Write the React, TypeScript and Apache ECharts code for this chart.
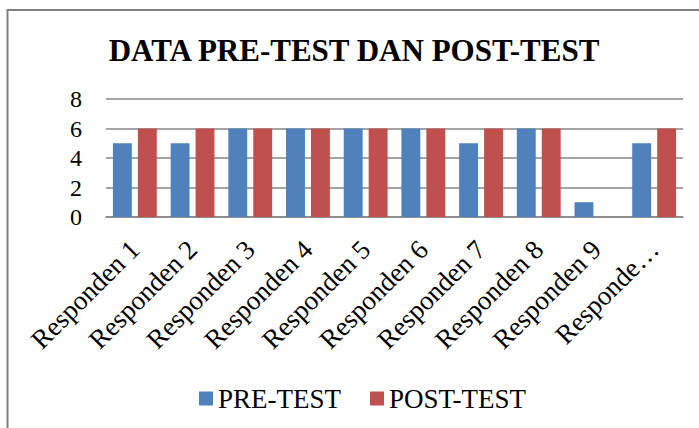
import React, { useEffect, useRef } from "react";
import * as echarts from "echarts";

const categories = [
  "Responden 1",
  "Responden 2",
  "Responden 3",
  "Responden 4",
  "Responden 5",
  "Responden 6",
  "Responden 7",
  "Responden 8",
  "Responden 9",
  "Responden 10",
];
const preTest = [5, 5, 6, 6, 6, 6, 5, 6, 1, 5];
const postTest = [6, 6, 6, 6, 6, 6, 6, 6, 0, 6];
const seriesNames = ["PRE-TEST", "POST-TEST"];
const titleText = "DATA PRE-TEST DAN POST-TEST";

const FONT = "'Liberation Serif', 'Times New Roman', serif";

export default function App() {
  const ref = useRef<HTMLDivElement>(null);
  useEffect(() => {
    if (!ref.current) return;
    const chart = echarts.init(ref.current, undefined, { renderer: "svg" });
    chart.setOption({
      animation: false,
      backgroundColor: "#ffffff",
      title: {
        text: titleText,
        left: 349,
        textAlign: "center",
        top: 30,
        textStyle: { fontFamily: FONT, fontSize: 31, fontWeight: "bold", color: "#000" },
      },
      legend: {
        data: seriesNames,
        left: 194,
        top: 380,
        itemWidth: 14,
        itemHeight: 14,
        itemGap: 29,
        icon: "rect",
        textStyle: { fontFamily: FONT, fontSize: 27, color: "#000" },
      },
      grid: { left: 106, right: 16, top: 99, bottom: 211, containLabel: false },
      xAxis: {
        type: "category",
        data: categories,
        axisLine: { show: true, lineStyle: { color: "#868686", width: 1.5 } },
        axisTick: { show: false },
        axisLabel: {
          interval: 0,
          rotate: 45,
          margin: 28,
          fontFamily: FONT,
          fontSize: 27,
          color: "#000",
          formatter: (v: string) => (v.length > 11 ? v.slice(0, 8) + "…" : v),
        },
      },
      yAxis: {
        type: "value",
        min: 0,
        max: 8,
        interval: 2,
        axisLine: { show: false },
        axisTick: { show: false },
        splitLine: { lineStyle: { color: "#868686", width: 1.5 } },
        axisLabel: { fontFamily: FONT, fontSize: 24, color: "#000", margin: 24 },
      },
      series: [
        {
          name: seriesNames[0],
          type: "bar",
          data: preTest,
          barGap: "32%",
          barCategoryGap: "24%",
          itemStyle: { color: "#4F81BD" },
        },
        {
          name: seriesNames[1],
          type: "bar",
          data: postTest,
          itemStyle: { color: "#C0504D" },
        },
      ],
      graphic: [
        {
          type: "polyline",
          shape: { points: [[7.5, 440], [7.5, 10], [705, 10]] },
          style: { stroke: "#7f7f7f", lineWidth: 2, fill: null },
          silent: true,
        },
      ],
    });
    return () => chart.dispose();
  }, []);
  return (
    <div
      ref={ref}
      style={{ position: "fixed", left: 0, top: 0, width: 699, height: 428 }}
    />
  );
}
